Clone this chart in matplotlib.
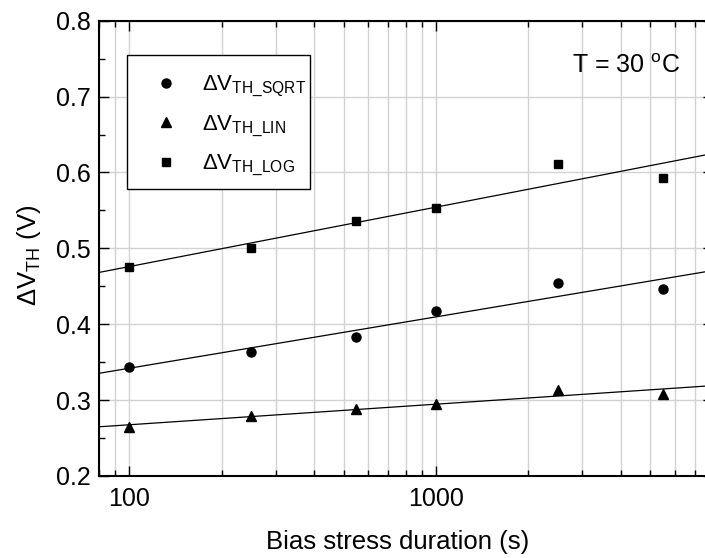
import numpy as np
import matplotlib
matplotlib.use('Agg')
import matplotlib.pyplot as plt
from matplotlib.patches import Rectangle
from matplotlib.ticker import LogLocator, FixedLocator, MultipleLocator, NullFormatter

plt.rcParams['font.family'] = ['Liberation Sans', 'DejaVu Sans']
plt.rcParams['mathtext.fontset'] = 'custom'
plt.rcParams['mathtext.rm'] = 'Liberation Sans'
plt.rcParams['mathtext.it'] = 'Liberation Sans:italic'
plt.rcParams['mathtext.bf'] = 'Liberation Sans:bold'

# stress durations (s) and threshold voltage shifts (V)
duration = [100, 250, 550, 1000, 2500, 5500]
dvth_sqrt = [0.344, 0.364, 0.383, 0.418, 0.454, 0.446]
dvth_lin = [0.265, 0.279, 0.288, 0.295, 0.313, 0.308]
dvth_log = [0.475, 0.501, 0.536, 0.553, 0.611, 0.593]

fig = plt.figure(figsize=(7.05, 5.58), dpi=100)
ax = fig.add_axes([0.1411, 0.1470, 0.8702, 0.8159])

xfit = np.logspace(np.log10(70), np.log10(9000), 50)
series = [
    (dvth_sqrt, 'o', 6.5, r'$\mathrm{\Delta V}_{\mathrm{TH\_SQRT}}$'),
    (dvth_lin, '^', 7.5, r'$\mathrm{\Delta V}_{\mathrm{TH\_LIN}}$'),
    (dvth_log, 's', 6.0, r'$\mathrm{\Delta V}_{\mathrm{TH\_LOG}}$'),
]
for vals, mk, ms, lab in series:
    ax.plot(duration, vals, linestyle='none', marker=mk, markersize=ms,
            color='black', label=lab, zorder=3)
    # linear fit against log(t)
    slope, icpt = np.polyfit(np.log10(duration), vals, 1)
    ax.plot(xfit, slope * np.log10(xfit) + icpt, color='black', lw=0.9, zorder=2)

ax.set_xscale('log')
ax.set_xlim(80, 8000)
ax.set_ylim(0.2, 0.8)

ax.xaxis.set_major_locator(FixedLocator([100, 1000]))
ax.xaxis.set_minor_locator(LogLocator(base=10, subs=np.arange(2, 10), numticks=20))
ax.xaxis.set_minor_formatter(NullFormatter())
ax.set_xticklabels(['100', '1000'])
ax.yaxis.set_major_locator(MultipleLocator(0.1))
ax.yaxis.set_minor_locator(MultipleLocator(0.05))

ax.grid(True, which='both', axis='x', color='#d2d2d2', lw=1.0)
ax.grid(True, which='major', axis='y', color='#d2d2d2', lw=1.0)
ax.set_axisbelow(True)

ax.tick_params(which='both', direction='in', top=True, right=True, width=1.0)
ax.tick_params(which='major', length=7, labelsize=18)
ax.tick_params(which='minor', length=4)
ax.tick_params(axis='x', which='major', pad=8)
ax.tick_params(axis='y', which='major', pad=6)
for sp in ax.spines.values():
    sp.set_linewidth(1.5)

ax.set_xlabel('Bias stress duration (s)', fontsize=18.5)
ax.set_ylabel(r'$\mathrm{\Delta V}_{\mathrm{TH}}$ (V)', fontsize=18.5)
ax.xaxis.set_label_coords(0.4866, -0.118)
ax.yaxis.set_label_coords(-0.092, 0.485)

ax.text(0.946, 0.885, r'T = 30 $^{\mathrm{o}}$C', transform=ax.transAxes,
        ha='right', va='baseline', fontsize=18)

# legend box drawn separately so its padding can be set freely
box = Rectangle((0.0443, 0.6303), 0.2988, 0.2944, transform=ax.transAxes,
                facecolor='white', edgecolor='black', lw=1.0, zorder=4)
ax.add_patch(box)
leg = ax.legend(loc='upper left', bbox_to_anchor=(0.044, 0.905), borderaxespad=0,
                fontsize=16, frameon=False, labelspacing=0.63, handletextpad=0.25,
                handlelength=2.7, borderpad=0.45)
leg.set_zorder(5)

fig.savefig('out.png', dpi=100)
